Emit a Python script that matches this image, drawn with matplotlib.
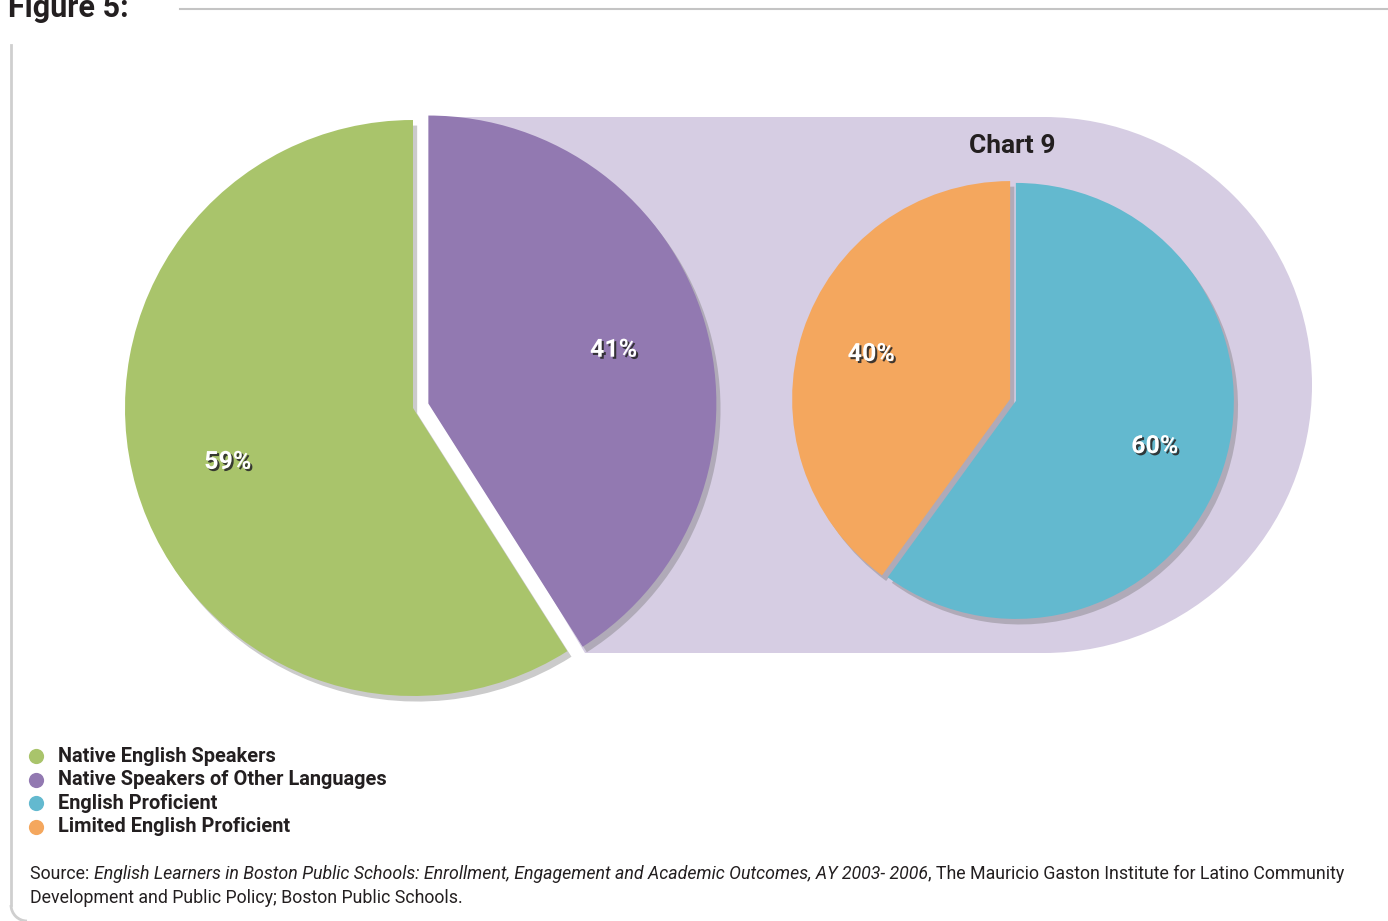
import matplotlib
matplotlib.use("Agg")
import matplotlib.pyplot as plt
from matplotlib import patheffects as pe
from matplotlib.patches import Wedge, Arc, Polygon

# canvas size in pixels (image coords, y down)
W, H = 1388, 921

# left pie: all students
left_labels = ["Native English Speakers", "Native Speakers of Other Languages"]
left_values = [59, 41]
left_colors = ["#a9c46b", "#9279b1"]

# right pie (Chart 9): native speakers of other languages
right_labels = ["Limited English Proficient", "English Proficient"]
right_values = [40, 60]
right_colors = ["#f4a75e", "#63b9cf"]

legend_labels = ["Native English Speakers", "Native Speakers of Other Languages",
                 "English Proficient", "Limited English Proficient"]
legend_colors = ["#a9c46b", "#9279b1", "#63b9cf", "#f4a75e"]

source_line1 = [("Source: ", "normal"),
                ("English Learners in Boston Public Schools: Enrollment, Engagement and "
                 "Academic Outcomes, AY 2003- 2006", "italic"),
                (", The Mauricio Gaston Institute for Latino Community", "normal")]
source_line2 = "Development and Public Policy; Boston Public Schools."

plt.rcParams['font.family'] = ['Roboto', 'DejaVu Sans']
dark = "#231f20"


def Y(y):
    return H - y


fig = plt.figure(figsize=(13.88, 9.21), dpi=100)
ax = fig.add_axes([0, 0, 1, 1])
r = fig.canvas.get_renderer()


def width_at10(txt, **kw):
    t = ax.text(0, 0, txt, fontsize=10, **kw)
    w = t.get_window_extent(renderer=r).width
    t.remove()
    return w


# lavender band joining the two pies (left edge hidden behind the purple slice)
lav = "#d6cde3"
band = [(440, 117), (1044, 117), (1044, 653), (585, 653), (440, 410)]
ax.add_patch(Polygon([(x, Y(y)) for x, y in band], closed=True, color=lav, lw=0, zorder=0))
ax.add_patch(Wedge((1044, Y(385)), 268, -90, 90, color=lav, lw=0, zorder=0))

shadow = [pe.SimplePatchShadow(offset=(3, -4), shadow_rgbFace="#6a6a6a", alpha=0.35),
          pe.Normal()]
label_fx = [pe.withSimplePatchShadow(offset=(1.5, -1.5), shadow_rgbFace="#2a2a2a", alpha=0.9)]
pct_props = dict(color="white", fontsize=18, fontweight="bold")

wl, tl, al = ax.pie(left_values, colors=left_colors, startangle=90, counterclock=True,
                    center=(413, Y(408)), radius=288, explode=[0, 16],
                    autopct="%.0f%%", pctdistance=0.67, textprops=pct_props,
                    wedgeprops=dict(linewidth=0, path_effects=shadow))
wr, tr, ar = ax.pie(right_values, colors=right_colors, startangle=90, counterclock=True,
                    center=(1013, Y(400)), radius=218, explode=[3, 3],
                    autopct="%.0f%%", pctdistance=0.67, textprops=pct_props,
                    wedgeprops=dict(linewidth=0, path_effects=shadow))
for t in al + ar:
    t.set_path_effects(label_fx)

# fix the pixel frame now, so later text measurements use final transforms
ax.set_xlim(0, W)
ax.set_ylim(0, H)
ax.set_aspect("auto")
ax.axis("off")

ax.text(1012, Y(146), "Chart 9", ha="center", va="center", fontsize=19,
        fontweight="bold", color=dark)

# legend, sized so the longest entry spans about the same width as the original
leg_fs = 10 * 330 / width_at10(legend_labels[1], fontweight="bold")
for i, (lab, col) in enumerate(zip(legend_labels, legend_colors)):
    yy = Y(756 + i * 23.5)
    ax.scatter([36], [yy], s=120, color=col, lw=0, zorder=3)
    ax.text(58, yy, lab, va="center", ha="left", fontsize=leg_fs, fontweight="bold", color=dark)

# frame and heading
ax.plot([180, W], [Y(9), Y(9)], color="#c4c4c4", lw=1.5)
ax.plot([11, 11], [Y(45), Y(905)], color="#cfcfcf", lw=2)
ax.add_patch(Arc((27, Y(905)), 32, 32, theta1=180, theta2=270, color="#cfcfcf", lw=2))
ax.text(8, Y(17), "Figure 5:", fontsize=22, fontweight="bold", va="baseline", color=dark)

# source note, pieces placed one after another
src_fs = 10 * 1313 / sum(width_at10(t, style=s) for t, s in source_line1)
x = 30
for txt, style in source_line1:
    t = ax.text(x, Y(874), txt, fontsize=src_fs, style=style, color=dark, va="center")
    bb = t.get_window_extent(renderer=r)
    x = ax.transData.inverted().transform((bb.x1, bb.y0))[0]
ax.text(30, Y(898), source_line2, fontsize=src_fs, color=dark, va="center")

fig.savefig("out.png", dpi=100)
